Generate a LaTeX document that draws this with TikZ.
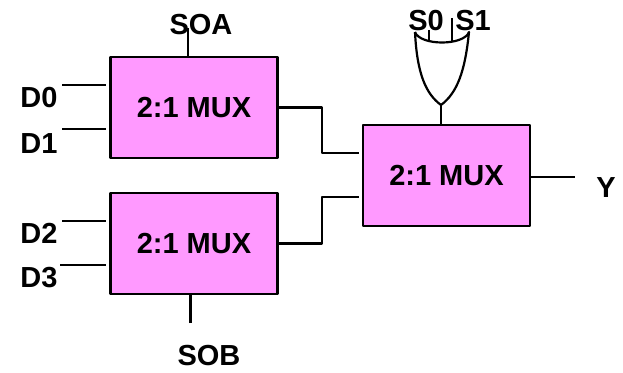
\documentclass[tikz,border=0pt]{standalone}
\usepackage{fontspec}
\setmainfont{Liberation Sans}
\definecolor{muxpink}{HTML}{FF99FF}
\begin{document}
\begin{tikzpicture}[x=1pt,y=1pt,
  mux/.style={rectangle,draw,line width=2.2pt,fill=muxpink,minimum width=167pt,minimum height=101pt,inner sep=0pt,font=\fontsize{29}{31}\bfseries\selectfont},
  lbl/.style={inner sep=0pt,font=\fontsize{29}{31}\bfseries\selectfont},
  wire/.style={line width=2.2pt},
  every path/.style={line join=round}]
\useasboundingbox (0,0) rectangle (623,372);
% the three boxes
\node [mux] (muxa) at (194,264.5) {2:1 MUX};
\node [mux] (muxb) at (194,128.5) {2:1 MUX};
\node [mux] (muxy) at (446.5,196.5) {2:1 MUX};
% labels
\node [lbl] (soa) at (201,347) {SOA};
\node [lbl] (sob) at (209,16) {SOB};
\node [lbl] (d0) at (39,274) {D0};
\node [lbl] (d1) at (39,228) {D1};
\node [lbl] (d2) at (39,139) {D2};
\node [lbl] (d3) at (39,94) {D3};
\node [lbl] (szero) at (426,351) {S0};
\node [lbl] (sone) at (473,351) {S1};
\node [lbl] (y) at (606,184) {Y};
% free wire ends
\coordinate (d0a) at (62,287); \coordinate (d0b) at (106,287);
\coordinate (d1a) at (62,243); \coordinate (d1b) at (106,243);
\coordinate (d2a) at (62,151); \coordinate (d2b) at (106,151);
\coordinate (d3a) at (60,107); \coordinate (d3b) at (106,107);
\coordinate (soaw) at (188,344);
\coordinate (sobw) at (190.5,49);
\coordinate (ywire) at (575,195);
\coordinate (ina) at (359,219);
\coordinate (inb) at (359,175);
\coordinate (bend) at (322,196);
\coordinate (gl) at (415,340);
\coordinate (gr) at (469,340);
\coordinate (gtip) at (441,267);
% inputs
\draw [wire] (d0a) -- (d0b);
\draw [wire] (d1a) -- (d1b);
\draw [wire] (d2a) -- (d2b);
\draw [wire] (d3a) -- (d3b);
\draw [wire] (soaw) -- (soaw |- muxa.north);
\draw [wire] (sobw) -- (sobw |- muxb.south);
% into the last box
\draw [wire] (muxa.east) -| (bend |- ina) -- (ina);
\draw [wire] (muxb.east) -| (bend |- inb) -- (inb);
\draw [wire] (muxy.east |- ywire) -- (ywire);
% or gate
\draw [wire] (gl) .. controls (417,298) and (426,278) .. (gtip)
  .. controls (457,279) and (465,300) .. (gr)
  .. controls (464,326) and (420,326) .. (gl);
\draw [wire] (429,342) -- (429,331);
\draw [wire] (452,354) -- (452,331);
\draw [wire] (gtip) -- (gtip |- muxy.north);
\end{tikzpicture}
\end{document}
